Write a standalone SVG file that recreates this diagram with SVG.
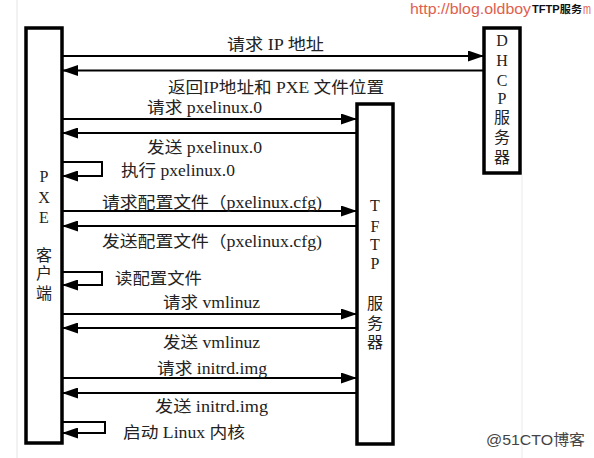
<svg xmlns="http://www.w3.org/2000/svg" width="594" height="458" viewBox="0 0 594 458">
<defs>
<marker id="ah" markerUnits="userSpaceOnUse" markerWidth="17" markerHeight="11" refX="16" refY="5.5" orient="auto">
<path d="M0,0 L16,5.5 L0,11 z" fill="#000"/>
</marker>
<style>
.box{fill:#fff;stroke:#000;stroke-width:3.5}
.ln{fill:none;stroke:#000;stroke-width:2;marker-end:url(#ah)}
.lb{font-family:"Liberation Serif","Noto Sans CJK SC",serif;font-size:16px;fill:#222}
.bt{font-family:"Liberation Serif","Noto Sans CJK SC",serif;font-size:16px;fill:#222;text-anchor:middle}
.wm{font-family:"Liberation Sans",sans-serif;font-size:14px;fill:#e0604e}
</style>
</defs>
<rect width="594" height="458" fill="#fff"/>
<line x1="17" y1="0" x2="17" y2="458" stroke="#eee" stroke-width="1.5"/>
<line x1="522" y1="175" x2="522" y2="458" stroke="#f0f0f0" stroke-width="1.5"/>
<g id="watermark">
<text class="wm" x="410" y="13.5" textLength="121" lengthAdjust="spacingAndGlyphs">http://blog.oldboy</text>
<text x="532" y="12.5" font-family="Liberation Sans,'Noto Sans CJK SC',sans-serif" font-size="10" font-weight="bold" fill="#111" textLength="50" lengthAdjust="spacingAndGlyphs">TFTP服务</text>
<text class="wm" x="583" y="13.5" textLength="8" lengthAdjust="spacingAndGlyphs">m</text>
<text x="486" y="445" font-family="Liberation Sans,'Noto Sans CJK SC',sans-serif" font-size="15" fill="#444" textLength="99" lengthAdjust="spacingAndGlyphs">@51CTO博客</text>
</g>
<g id="pxe">
<rect class="box" x="26" y="28" width="36" height="415"/>
<text class="bt" x="44" y="182">P</text>
<text class="bt" x="44" y="203">X</text>
<text class="bt" x="44" y="223">E</text>
<text class="bt" x="44" y="261">客</text>
<text class="bt" x="44" y="279">户</text>
<text class="bt" x="44" y="299">端</text>
</g>
<g id="dhcp">
<rect class="box" x="484" y="28" width="36" height="145"/>
<text class="bt" x="502" y="46">D</text>
<text class="bt" x="502" y="66">H</text>
<text class="bt" x="502" y="86">C</text>
<text class="bt" x="502" y="104">P</text>
<text class="bt" x="502" y="123">服</text>
<text class="bt" x="502" y="143">务</text>
<text class="bt" x="502" y="163">器</text>
</g>
<g id="tftp">
<rect class="box" x="357" y="104" width="36" height="340"/>
<text class="bt" x="375" y="211">T</text>
<text class="bt" x="375" y="232">F</text>
<text class="bt" x="375" y="250">T</text>
<text class="bt" x="375" y="269">P</text>
<text class="bt" x="375" y="309">服</text>
<text class="bt" x="375" y="329">务</text>
<text class="bt" x="375" y="348">器</text>
</g>
<g id="connectors">
<line class="ln" x1="62" y1="56" x2="484" y2="56"/>
<line class="ln" x1="484" y1="70.5" x2="62" y2="70.5"/>
<line class="ln" x1="62" y1="119" x2="357" y2="119"/>
<line class="ln" x1="357" y1="133" x2="62" y2="133"/>
<path class="ln" d="M62,162 H102 V176 H62"/>
<line class="ln" x1="62" y1="211" x2="357" y2="211"/>
<line class="ln" x1="357" y1="226" x2="62" y2="226"/>
<path class="ln" d="M62,272 H102 V285 H62"/>
<line class="ln" x1="62" y1="314" x2="357" y2="314"/>
<line class="ln" x1="357" y1="328" x2="62" y2="328"/>
<line class="ln" x1="62" y1="378" x2="357" y2="378"/>
<line class="ln" x1="357" y1="393" x2="62" y2="393"/>
<path class="ln" d="M62,422 H105 V433 H62"/>
</g>
<g id="labels">
<text class="lb" x="227" y="50" textLength="97" lengthAdjust="spacingAndGlyphs">请求 IP 地址</text>
<text class="lb" x="168" y="93" textLength="216" lengthAdjust="spacingAndGlyphs">返回IP地址和 PXE 文件位置</text>
<text class="lb" x="147" y="113" textLength="115" lengthAdjust="spacingAndGlyphs">请求 pxelinux.0</text>
<text class="lb" x="147" y="153" textLength="115" lengthAdjust="spacingAndGlyphs">发送 pxelinux.0</text>
<text class="lb" x="121" y="176" textLength="114" lengthAdjust="spacingAndGlyphs">执行 pxelinux.0</text>
<text class="lb" x="102" y="208" textLength="220" lengthAdjust="spacingAndGlyphs">请求配置文件（pxelinux.cfg)</text>
<text class="lb" x="102" y="247" textLength="220" lengthAdjust="spacingAndGlyphs">发送配置文件（pxelinux.cfg)</text>
<text class="lb" x="115" y="284" textLength="87" lengthAdjust="spacingAndGlyphs">读配置文件</text>
<text class="lb" x="163" y="308" textLength="97" lengthAdjust="spacingAndGlyphs">请求 vmlinuz</text>
<text class="lb" x="163" y="348" textLength="97" lengthAdjust="spacingAndGlyphs">发送 vmlinuz</text>
<text class="lb" x="157" y="374" textLength="110" lengthAdjust="spacingAndGlyphs">请求 initrd.img</text>
<text class="lb" x="155" y="412" textLength="113" lengthAdjust="spacingAndGlyphs">发送 initrd.img</text>
<text class="lb" x="123" y="438" textLength="122" lengthAdjust="spacingAndGlyphs">启动 Linux 内核</text>
</g>
</svg>
